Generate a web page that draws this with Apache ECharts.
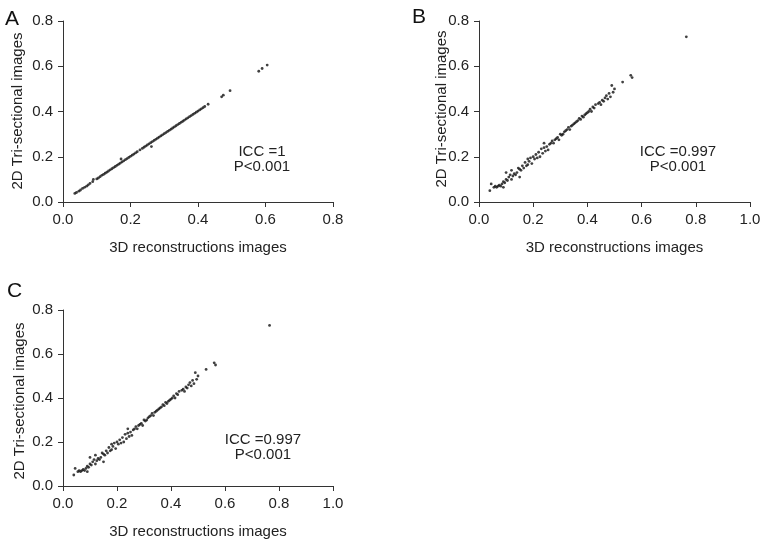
<!DOCTYPE html>
<html>
<head>
<meta charset="utf-8">
<script src="https://cdn.jsdelivr.net/npm/echarts@6/dist/echarts.min.js"></script>
<style>
html,body{margin:0;padding:0;background:#fff;}
#chart{width:767px;height:540px;}
</style>
</head>
<body>
<div id="chart"></div>
<script>
// Panel A data
var aX = [0.035,0.04,0.047,0.052,0.058,0.064,0.07,0.075,0.08,0.088,0.09,0.1,0.105,0.11,0.115,0.12,0.125,0.13,0.135,0.14,0.145,0.15,0.155,0.16,0.165,0.17,0.172,0.175,0.18,0.185,0.19,0.195,0.2,0.205,0.21,0.215,0.22,0.228,0.235,0.24,0.245,0.25,0.255,0.26,0.262,0.265,0.27,0.275,0.28,0.285,0.29,0.295,0.3,0.305,0.31,0.315,0.32,0.325,0.33,0.335,0.34,0.345,0.35,0.355,0.36,0.365,0.37,0.375,0.38,0.385,0.39,0.395,0.4,0.405,0.41,0.415,0.42,0.43,0.47,0.475,0.495,0.58,0.59,0.605];
var aY = [0.038,0.042,0.048,0.053,0.06,0.065,0.07,0.076,0.082,0.09,0.1,0.102,0.106,0.112,0.118,0.122,0.127,0.132,0.137,0.142,0.147,0.152,0.157,0.162,0.167,0.172,0.19,0.177,0.182,0.187,0.192,0.197,0.202,0.207,0.212,0.217,0.222,0.23,0.237,0.242,0.247,0.252,0.257,0.262,0.245,0.267,0.272,0.277,0.282,0.287,0.292,0.297,0.302,0.307,0.312,0.317,0.322,0.327,0.332,0.337,0.342,0.347,0.352,0.357,0.362,0.367,0.372,0.377,0.382,0.387,0.392,0.397,0.402,0.407,0.412,0.417,0.422,0.432,0.465,0.472,0.492,0.578,0.59,0.605];
// Panels B and C data (same measurements)
var bX = [0.04,0.045,0.055,0.06,0.065,0.07,0.075,0.08,0.085,0.09,0.09,0.095,0.1,0.1,0.105,0.11,0.115,0.12,0.12,0.125,0.13,0.135,0.14,0.145,0.15,0.15,0.155,0.16,0.165,0.17,0.175,0.18,0.18,0.185,0.19,0.195,0.2,0.205,0.21,0.215,0.22,0.225,0.23,0.235,0.24,0.24,0.245,0.25,0.255,0.26,0.265,0.27,0.275,0.28,0.285,0.29,0.295,0.3,0.305,0.31,0.315,0.32,0.325,0.33,0.335,0.34,0.345,0.35,0.355,0.36,0.365,0.37,0.375,0.38,0.385,0.39,0.395,0.4,0.405,0.41,0.415,0.42,0.425,0.43,0.44,0.445,0.45,0.455,0.46,0.465,0.47,0.475,0.48,0.485,0.49,0.495,0.5,0.53,0.56,0.565,0.765];
var bY = [0.05,0.08,0.065,0.07,0.065,0.07,0.075,0.07,0.08,0.09,0.065,0.085,0.1,0.13,0.095,0.11,0.12,0.1,0.14,0.115,0.125,0.12,0.13,0.15,0.145,0.11,0.14,0.16,0.15,0.175,0.16,0.165,0.19,0.18,0.195,0.17,0.2,0.19,0.21,0.195,0.22,0.2,0.235,0.215,0.24,0.26,0.225,0.245,0.23,0.255,0.26,0.27,0.26,0.275,0.28,0.285,0.275,0.3,0.295,0.3,0.31,0.315,0.32,0.33,0.32,0.335,0.34,0.345,0.35,0.355,0.36,0.37,0.365,0.38,0.375,0.385,0.39,0.395,0.4,0.41,0.4,0.42,0.415,0.43,0.435,0.44,0.43,0.45,0.445,0.46,0.47,0.455,0.48,0.465,0.515,0.485,0.5,0.53,0.56,0.55,0.73];
var cX = bX;
var cY = bY;
var panelLetters = ['A','B','C'];
var iccTexts = ['ICC =1','ICC =0.997','ICC =0.997'];
var pText = 'P<0.001';
var xTitle = '3D reconstructions images';
var yTitle = '2D Tri-sectional images';
var xMaxes = [0.8, 1.0, 1.0];

function zip(xs, ys){ return xs.map(function(x,i){ return [x, ys[i]]; }); }

var FONT = 'Liberation Sans, Arial, Helvetica, sans-serif';
var TXT = '#222';
var grids = [
  {left:63, top:21, width:270, height:181},
  {left:479, top:21, width:271, height:181},
  {left:63, top:310, width:270, height:180}
];
function xAxis(i){
  return {
    gridIndex:i, type:'value', min:0, max:xMaxes[i], interval:0.2,
    name:xTitle, nameLocation:'middle', nameGap:38,
    nameTextStyle:{fontFamily:FONT, fontSize:15, color:TXT},
    splitLine:{show:false},
    axisLine:{show:true, lineStyle:{color:'#333', width:1}},
    axisTick:{show:true, length:5, lineStyle:{color:'#333'}},
    axisLabel:{fontFamily:FONT, fontSize:15, color:TXT, margin:10,
      formatter:function(v){ return v.toFixed(1); }}
  };
}
function yAxis(i){
  return {
    gridIndex:i, type:'value', min:0, max:0.8, interval:0.2,
    splitLine:{show:false},
    axisLine:{show:true, lineStyle:{color:'#333', width:1}},
    axisTick:{show:true, length:5, lineStyle:{color:'#333'}},
    axisLabel:{fontFamily:FONT, fontSize:15, color:TXT, margin:10,
      formatter:function(v){ return v.toFixed(1); }}
  };
}
var datasets = [zip(aX,aY), zip(bX,bY), zip(cX,cY)];
var series = datasets.map(function(d,i){
  return {type:'scatter', xAxisIndex:i, yAxisIndex:i, data:d,
    symbol:'circle', symbolSize:2.8, itemStyle:{color:'#111'}, silent:true};
});
var letterPos = [[5,9],[412,7],[7,281]];
var iccPos = [[262,152],[678,152],[263,440]];
var yTitlePos = [[18,111],[442,109],[20,401]];
var graphics = [];
panelLetters.forEach(function(l,i){
  graphics.push({type:'text', left:letterPos[i][0], top:letterPos[i][1],
    style:{text:l, font:'21px '+FONT, fill:'#111'}});
});
yTitlePos.forEach(function(p){
  graphics.push({type:'text', x:p[0], y:p[1], rotation:Math.PI/2,
    style:{text:yTitle, font:'15px '+FONT, fill:TXT, textAlign:'center', textVerticalAlign:'middle'}});
});
iccTexts.forEach(function(t,i){
  graphics.push({type:'text', x:iccPos[i][0], y:iccPos[i][1],
    style:{text:t, font:'15px '+FONT, fill:TXT, textAlign:'center', textVerticalAlign:'middle'}});
  graphics.push({type:'text', x:iccPos[i][0], y:iccPos[i][1]+15,
    style:{text:pText, font:'15px '+FONT, fill:TXT, textAlign:'center', textVerticalAlign:'middle'}});
});

var chart = echarts.init(document.getElementById('chart'), null, {renderer:'canvas'});
chart.setOption({
  animation:false,
  backgroundColor:'#fff',
  grid:grids,
  xAxis:[xAxis(0), xAxis(1), xAxis(2)],
  yAxis:[yAxis(0), yAxis(1), yAxis(2)],
  series:series,
  graphic:graphics
});
</script>
</body>
</html>
